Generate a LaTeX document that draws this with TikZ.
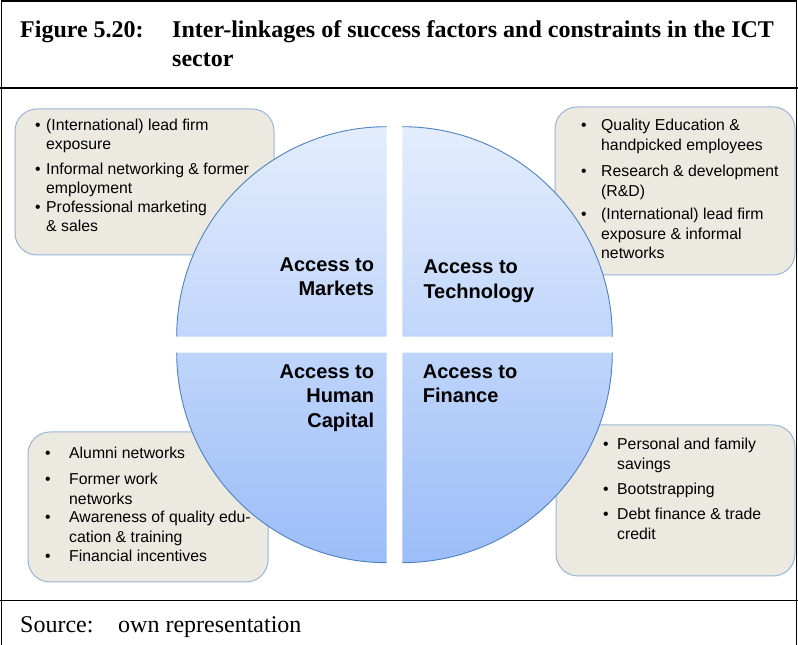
\documentclass[tikz,border=0pt]{standalone}
\usepackage{fontspec}
\setmainfont{Liberation Serif}
\newfontfamily\arialfont{Liberation Sans}
\definecolor{boxfill}{HTML}{ECEAE0}
\definecolor{boxblue}{HTML}{9AB5DA}
\definecolor{arcblue}{HTML}{4F81BD}
\definecolor{qtop}{HTML}{E3EDFD}
\definecolor{qbot}{HTML}{9CBDF8}
\newcommand{\lines}[1]{\begin{tabular}[t]{@{}l@{}}#1\end{tabular}}
\newcommand{\rlines}[1]{\begin{tabular}[t]{@{}r@{}}#1\end{tabular}}
\begin{document}
\begin{tikzpicture}[x=1pt,y=1pt,
  frame/.style={line width=1.6pt, draw=black},
  box/.style={draw=boxblue, fill=boxfill, line width=1pt, rounded corners=22pt},
  arcline/.style={draw=arcblue, line width=0.9pt},
  blabel/.style={font=\arialfont\bfseries\fontsize{20}{#1}\selectfont, inner sep=0pt},
  blabel/.default=24,
  bul/.style={font=\arialfont\fontsize{15.8}{16.5}\selectfont, inner sep=0pt, anchor=base west},
  itm/.style={font=\arialfont\fontsize{15.8}{#1}\selectfont, inner sep=0pt, anchor=base west},
  ttl/.style={font=\bfseries\fontsize{24}{29}\selectfont, inner sep=0pt, anchor=base west},
  src/.style={font=\fontsize{24}{29}\selectfont, inner sep=0pt, anchor=base west}
]
\useasboundingbox (0,0) rectangle (798,645);
% frame
\draw[frame] (1.5,0) -- (1.5,643.7) -- (796.5,643.7) -- (796.5,0);
\draw[frame] (0,557) -- (798,557);
\draw[frame] (0,44.5) -- (798,44.5);
% title
\node[ttl] (fig) at (20,607) {Figure 5.20:};
\node[ttl] (t1) at (172,607) {Inter-linkages of success factors and constraints in the ICT};
\node[ttl] (t2) at (172,578) {sector};
\node[src] (s1) at (20,12) {Source:};
\node[src] (s2) at (118,12) {own representation};
% boxes
\draw[box] (15,390) rectangle (274,536);
\draw[box] (555,370) rectangle (795,538);
\draw[box] (28,63) rectangle (268,213);
\draw[box] (556,69) rectangle (795,220);
% circle quadrants
\begin{scope}
 \clip (386.7,308.3) -- ++(-210,0) arc[start angle=180,end angle=90,radius=210] -- cycle
       (402.3,308.3) -- ++(0,210) arc[start angle=90,end angle=0,radius=210] -- cycle
       (386.7,292.3) -- ++(0,-210) arc[start angle=270,end angle=180,radius=210] -- cycle
       (402.3,292.3) -- ++(210,0) arc[start angle=0,end angle=-90,radius=210] -- cycle;
 \shade[top color=qtop, bottom color=qbot] (170,82.3) rectangle (620,518.3);
\end{scope}
\draw[arcline] (176.7,308.3) arc[start angle=180,end angle=90,radius=210];
\draw[arcline] (402.3,518.3) arc[start angle=90,end angle=0,radius=210];
\draw[arcline] (176.7,292.3) arc[start angle=180,end angle=270,radius=210];
\draw[arcline] (612.3,292.3) arc[start angle=0,end angle=-90,radius=210];
% quadrant labels
\node[blabel, anchor=base east] (mk) at (374.3,373.3) {\rlines{Access to\\Markets}};
\node[blabel=25, anchor=base west] (te) at (423.3,371) {\lines{Access to\\Technology}};
\node[blabel=24.5, anchor=base east] (hc) at (374.3,266.7) {\rlines{Access to\\Human\\Capital}};
\node[blabel, anchor=base west] (fi) at (422.7,266.7) {\lines{Access to\\Finance}};
% TL items
\node[bul] (b11) at (35,514) {•};
\node[itm=18.5] (i11) at (46,514) {\lines{(International) lead firm\\exposure}};
\node[bul] (b12) at (35,470) {•};
\node[itm=18.5] (i12) at (46,470) {\lines{Informal networking \& former\\employment}};
\node[bul] (b13) at (35,432) {•};
\node[itm=18.5] (i13) at (46,432) {\lines{Professional marketing\\\& sales}};
% TR items
\node[bul] (b21) at (581,514) {•};
\node[itm=19.5] (i21) at (601,514) {\lines{Quality Education \&\\handpicked employees}};
\node[bul] (b22) at (581,468) {•};
\node[itm=19.5] (i22) at (601,468) {\lines{Research \& development\\(R\&D)}};
\node[bul] (b23) at (581,425) {•};
\node[itm=19.5] (i23) at (601,425) {\lines{(International) lead firm\\exposure \& informal\\networks}};
% BL items
\node[bul] (b31) at (45,186) {•};
\node[itm=19.5] (i31) at (69,186) {\lines{Alumni networks}};
\node[bul] (b32) at (45,160) {•};
\node[itm=19.5] (i32) at (69,160) {\lines{Former work\\networks}};
\node[bul] (b33) at (45,122) {•};
\node[itm=19.5] (i33) at (69,122) {\lines{Awareness of quality edu-\\cation \& training}};
\node[bul] (b34) at (45,83) {•};
\node[itm=19.5] (i34) at (69,83) {\lines{Financial incentives}};
% BR items
\node[bul] (b41) at (603,195) {•};
\node[itm=19.5] (i41) at (617,195) {\lines{Personal and family\\savings}};
\node[bul] (b42) at (603,150) {•};
\node[itm=19.5] (i42) at (617,150) {\lines{Bootstrapping}};
\node[bul] (b43) at (603,125) {•};
\node[itm=19.5] (i43) at (617,125) {\lines{Debt finance \& trade\\credit}};
\end{tikzpicture}
\end{document}
